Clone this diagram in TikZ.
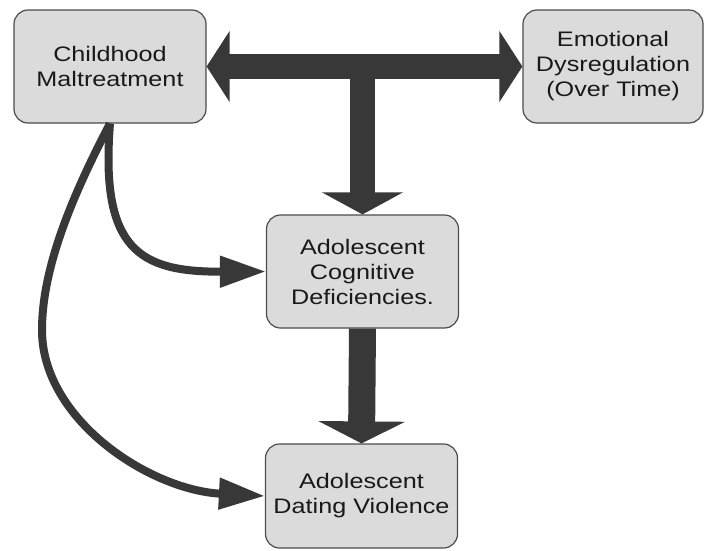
\documentclass[tikz,border=0pt]{standalone}
\usepackage{fontspec}
\setmainfont{Liberation Sans}[FakeStretch=1.2]
\usetikzlibrary{arrows.meta}

\begin{document}
\begin{tikzpicture}[x=1pt, y=1pt,
    box/.style={draw=black!70, line width=1.2pt, fill=black!14, rounded corners=14pt,
      align=center, minimum width=192pt, minimum height=113pt, inner sep=0pt,
      text=black!90, font=\fontsize{21}{25}\selectfont},
    fat/.style={draw=black!78, line width=25pt},
    curvy/.style={draw=black!78, line width=8pt, -{Triangle[length=46pt, width=30pt]}}]
    \useasboundingbox (0, 0) rectangle (705, -550);

    % Boxes
    \node[box] (child) at (110, -66.5) {Childhood\\Maltreatment};
    \node[box, minimum width=180pt] (emot) at (613, -66.5) {Emotional\\Dysregulation\\(Over Time)};
    \node[box] (cogn) at (362.5, -271.5) {Adolescent\\Cognitive\\Deficiencies.};
    \node[box, minimum height=104pt] (dating) at (361.5, -496) {Adolescent\\Dating Violence};

    % Thick T-shaped arrows
    \draw[fat, {Triangle[length=23pt, width=70pt]}-{Triangle[length=23pt, width=70pt]}] (child.east) -- (emot.west);
    \draw[fat, -{Triangle[length=22pt, width=80pt]}] (cogn.north |- child.east) -- (cogn.north);
    \draw[fat, line width=27pt, -{Triangle[length=22pt, width=86pt]}] (cogn.south) -- (dating.north);

    % Curved arrows from maltreatment
    \draw[curvy] (child.south) .. controls (100, -250) and (140, -272) .. (cogn.west);
    \draw[curvy] (child.south) .. controls (70, -200) and (42, -270) .. (42, -330)
        .. controls (42, -420) and (150, -490) .. (dating.west);
\end{tikzpicture}
\end{document}
